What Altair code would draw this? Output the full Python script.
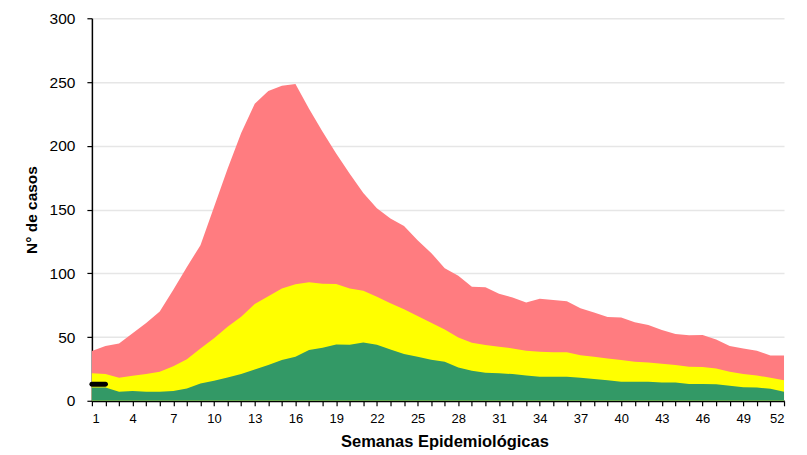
import altair as alt
import pandas as pd

weeks = list(range(1, 53))
red = [39, 43, 45, 53, 61, 70, 87, 105, 122, 152, 182, 210, 233, 243, 247, 248.5,
       229, 211, 194, 178, 163, 151, 143, 137, 126, 116, 104, 98, 89.5, 89, 84, 81,
       77, 80, 79, 78, 72.5, 69.3, 65.7, 65.4, 61.5, 59.4, 55.5, 52.3, 51.3, 51.5,
       48.1, 42.9, 41.1, 39.2, 35.6, 35.6]
yellow = [21.5, 21, 18, 19.6, 21, 22.8, 27, 32.5, 41, 49, 58, 66, 76, 82, 88, 91.3,
          93, 91.8, 91.5, 88, 86.3, 81.5, 76.4, 71.7, 66.4, 61.2, 56, 49.7, 45.5,
          43.7, 42.4, 41.1, 39.2, 38.4, 38, 38, 35.8, 34.5, 33.2, 31.9, 30.6, 30.1,
          29, 28, 26.7, 26.4, 25.4, 22.8, 21, 19.9, 18, 16.2]
green = [10.5, 10.5, 7, 7.6, 7, 7, 7.6, 9.7, 13.6, 15.7, 18.3, 21, 24.6, 28, 31.9,
         34.5, 39.8, 41.6, 44.2, 44, 45.8, 44, 40.3, 36.6, 34.5, 32.2, 30.6, 26.2,
         23.5, 22, 21.5, 21, 19.9, 18.8, 18.8, 18.8, 18, 17, 16.2, 14.9, 14.9, 14.9,
         14.4, 14.4, 13.1, 13.1, 13, 11.8, 10.7, 10.5, 9.4, 7.1]
current_weeks = [1, 2]
current_cases = [13, 13]

df = pd.DataFrame({"semana": weeks, "rojo": red, "amarillo": yellow, "verde": green})
dfc = pd.DataFrame({"semana": current_weeks, "casos": current_cases})

FONT = "Liberation Sans"

xscale = alt.Scale(domain=[1, 52], nice=False, zero=False)
yscale = alt.Scale(domain=[0, 300], nice=False)

xaxis = alt.Axis(
    title="Semanas Epidemiológicas",
    values=weeks,
    labelExpr="(datum.value % 3 == 1) ? datum.label : ''",
    labelOverlap=False,
    labelFontSize=13,
    labelPadding=7,
    tickSize=5,
    grid=False,
    titleFontSize=16.5,
    titleFontWeight="bold",
    titlePadding=8,
    titleX=353,
)
yaxis = alt.Axis(
    title="N° de casos",
    values=[0, 50, 100, 150, 200, 250, 300],
    labelFontSize=15.5,
    labelPadding=12,
    tickSize=5,
    grid=True,
    titleFontSize=15.5,
    titleFontWeight="bold",
    titlePadding=10,
)

X = alt.X("semana:Q", scale=xscale, axis=xaxis)

base = alt.Chart(df)
red_area = base.mark_area(color="#FF7C80", opacity=1).encode(
    x=X, y=alt.Y("rojo:Q", scale=yscale, axis=yaxis),
)
yellow_area = base.mark_area(color="#FFFF00", opacity=1).encode(
    x=X, y=alt.Y("amarillo:Q", scale=yscale, axis=yaxis),
)
green_area = base.mark_area(color="#339966", opacity=1).encode(
    x=X, y=alt.Y("verde:Q", scale=yscale, axis=yaxis),
)
line = alt.Chart(dfc).mark_line(color="black", strokeWidth=5, strokeCap="round").encode(
    x=X, y=alt.Y("casos:Q", scale=yscale, axis=yaxis),
)

chart = alt.layer(red_area, yellow_area, green_area, line).properties(
    width=693,
    height=383,
    autosize=alt.AutoSizeParams(type="none"),
    padding={"left": 84, "top": 10, "right": 15, "bottom": 50},
).configure_view(stroke=None).configure_axis(
    labelFont=FONT,
    titleFont=FONT,
    labelColor="black",
    titleColor="black",
    domainColor="black",
    domainWidth=1.5,
    tickColor="black",
    tickWidth=1.2,
    gridColor="#e6e6e6",
    gridWidth=1.5,
).configure_axisX(domainWidth=2)

chart.save("out.html", embed_options={"renderer": "svg", "actions": False})
